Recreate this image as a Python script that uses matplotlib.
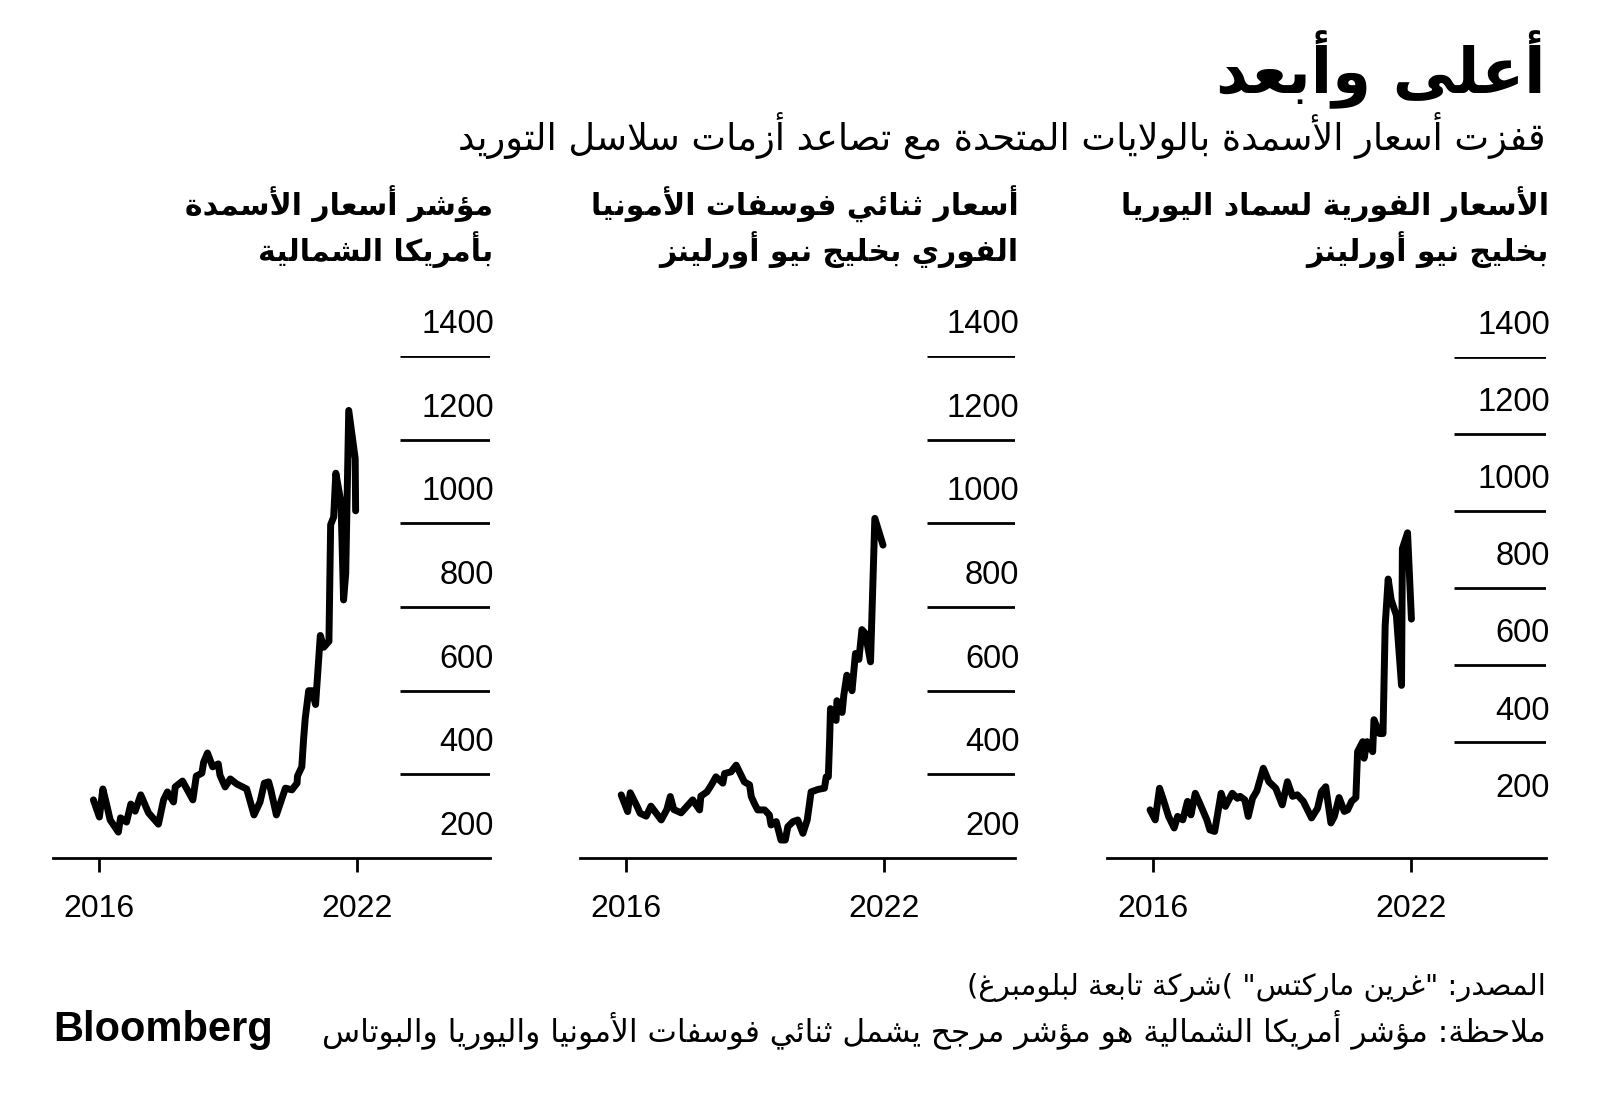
# US fertilizer prices, three small panels (Bloomberg style, Arabic labels)
import matplotlib as mpl
mpl.use('Agg')
import matplotlib.pyplot as plt

# ---- data ----
# North America fertilizer price index
t_index = [2015.87, 2016.01, 2016.09, 2016.18, 2016.26, 2016.45, 2016.50, 2016.64, 2016.74, 2016.84,
           2016.97, 2017.15, 2017.38, 2017.50, 2017.59, 2017.73, 2017.77, 2017.94, 2018.18, 2018.26,
           2018.39, 2018.43, 2018.52, 2018.64, 2018.77, 2018.81, 2018.93, 2019.05, 2019.20, 2019.43,
           2019.60, 2019.74, 2019.84, 2019.94, 2019.99, 2020.12, 2020.25, 2020.33, 2020.48, 2020.60,
           2020.61, 2020.71, 2020.75, 2020.79, 2020.87, 2020.95, 2021.03, 2021.14, 2021.22, 2021.34,
           2021.38, 2021.45, 2021.50, 2021.62, 2021.68, 2021.73, 2021.80, 2021.95, 2021.96]
v_index = [339, 298, 365, 327, 291, 262, 296, 286, 329, 312,
           351, 308, 281, 339, 358, 334, 370, 384, 339, 396,
           403, 429, 451, 418, 425, 398, 370, 389, 377, 365,
           303, 334, 379, 382, 363, 303, 343, 367, 363, 379,
           396, 418, 482, 534, 600, 600, 567, 732, 704, 718,
           997, 1015, 1120, 1050, 817, 880, 1270, 1155, 1030]

# DAP spot, NOLA
t_dap = [2015.90, 2016.05, 2016.11, 2016.27, 2016.34, 2016.48, 2016.59, 2016.83, 2016.96, 2017.04,
         2017.12, 2017.29, 2017.43, 2017.56, 2017.72, 2017.75, 2017.89, 2017.99, 2018.10, 2018.26,
         2018.30, 2018.45, 2018.57, 2018.76, 2018.88, 2018.92, 2018.99, 2019.07, 2019.23, 2019.34,
         2019.38, 2019.50, 2019.61, 2019.71, 2019.77, 2019.89, 2020.00, 2020.12, 2020.22, 2020.31,
         2020.47, 2020.62, 2020.66, 2020.71, 2020.74, 2020.76, 2020.89, 2020.91, 2021.03, 2021.07,
         2021.14, 2021.26, 2021.34, 2021.42, 2021.49, 2021.57, 2021.69, 2021.79, 2021.98]
v_dap = [351, 311, 356, 323, 307, 300, 324, 291, 316, 347,
         316, 308, 324, 339, 315, 348, 358, 374, 394, 379,
         402, 406, 422, 382, 375, 347, 331, 315, 315, 303,
         279, 287, 243, 243, 275, 287, 291, 259, 291, 358,
         364, 367, 394, 394, 482, 557, 529, 576, 548, 590,
         637, 600, 689, 675, 746, 737, 669, 1012, 948]

# Urea spot, NOLA
t_urea = [2015.93, 2016.05, 2016.15, 2016.24, 2016.36, 2016.49, 2016.57, 2016.69, 2016.80, 2016.88,
          2016.98, 2017.10, 2017.25, 2017.32, 2017.43, 2017.49, 2017.58, 2017.68, 2017.76, 2017.84,
          2017.96, 2018.02, 2018.13, 2018.21, 2018.31, 2018.41, 2018.56, 2018.69, 2018.85, 2019.00,
          2019.12, 2019.24, 2019.35, 2019.49, 2019.68, 2019.82, 2019.91, 2020.01, 2020.13, 2020.21,
          2020.32, 2020.44, 2020.52, 2020.61, 2020.71, 2020.75, 2020.87, 2020.90, 2020.97, 2021.10,
          2021.13, 2021.26, 2021.34, 2021.39, 2021.46, 2021.53, 2021.65, 2021.77, 2021.79, 2021.91,
          2022.00]
v_urea = [225, 199, 281, 251, 208, 178, 208, 199, 247, 212,
          268, 238, 199, 173, 169, 208, 268, 234, 251, 268,
          255, 260, 251, 208, 255, 274, 333, 298, 281, 238,
          298, 260, 264, 247, 204, 229, 272, 285, 191, 208,
          257, 221, 225, 247, 257, 376, 402, 359, 402, 376,
          459, 423, 423, 703, 824, 770, 730, 548, 903, 944,
          720]

x_ticks = [2016, 2022]
y_labels = [200, 400, 600, 800, 1000, 1200, 1400]

title = "أعلى وأبعد"
subtitle = "قفزت أسعار الأسمدة بالولايات المتحدة مع تصاعد أزمات سلاسل التوريد"
head_urea = ["الأسعار الفورية لسماد اليوريا", "بخليج نيو أورلينز"]
head_dap = ["أسعار ثنائي فوسفات الأمونيا", "الفوري بخليج نيو أورلينز"]
head_index = ["مؤشر أسعار الأسمدة", "بأمريكا الشمالية"]
source = 'المصدر: "غرين ماركتس" )شركة تابعة لبلومبرغ)'
note = "ملاحظة: مؤشر أمريكا الشمالية هو مؤشر مرجح يشمل ثنائي فوسفات الأمونيا واليوريا والبوتاس"


# ---- minimal Arabic shaping: contextual forms + lam-alef, then RTL order ----
_base = [('\u0621', 0xFE80, 1), ('\u0622', 0xFE81, 2), ('\u0623', 0xFE83, 2), ('\u0624', 0xFE85, 2),
         ('\u0625', 0xFE87, 2), ('\u0626', 0xFE89, 4), ('\u0627', 0xFE8D, 2), ('\u0628', 0xFE8F, 4),
         ('\u0629', 0xFE93, 2), ('\u062A', 0xFE95, 4), ('\u062B', 0xFE99, 4), ('\u062C', 0xFE9D, 4),
         ('\u062D', 0xFEA1, 4), ('\u062E', 0xFEA5, 4), ('\u062F', 0xFEA9, 2), ('\u0630', 0xFEAB, 2),
         ('\u0631', 0xFEAD, 2), ('\u0632', 0xFEAF, 2), ('\u0633', 0xFEB1, 4), ('\u0634', 0xFEB5, 4),
         ('\u0635', 0xFEB9, 4), ('\u0636', 0xFEBD, 4), ('\u0637', 0xFEC1, 4), ('\u0638', 0xFEC5, 4),
         ('\u0639', 0xFEC9, 4), ('\u063A', 0xFECD, 4), ('\u0641', 0xFED1, 4), ('\u0642', 0xFED5, 4),
         ('\u0643', 0xFED9, 4), ('\u0644', 0xFEDD, 4), ('\u0645', 0xFEE1, 4), ('\u0646', 0xFEE5, 4),
         ('\u0647', 0xFEE9, 4), ('\u0648', 0xFEED, 2), ('\u0649', 0xFEEF, 2), ('\u064A', 0xFEF1, 4)]
FORMS = {c: (b, n) for c, b, n in _base}
LAMALEF = {'\u0622': 0xFEF5, '\u0623': 0xFEF7, '\u0625': 0xFEF9, '\u0627': 0xFEFB}
MIRROR = {'(': ')', ')': '('}


def ar(text):
    # merge lam + alef into one ligature unit
    units = []
    i = 0
    while i < len(text):
        c = text[i]
        if c == '\u0644' and i + 1 < len(text) and text[i + 1] in LAMALEF:
            units.append(('LA', LAMALEF[text[i + 1]]))
            i += 2
        else:
            units.append((c, None))
            i += 1

    def joins_left(u):   # can connect to the following letter
        return u[0] in FORMS and FORMS[u[0]][1] == 4

    def is_letter(u):
        return u[0] == 'LA' or u[0] in FORMS

    out = []
    for k, u in enumerate(units):
        prev = units[k - 1] if k > 0 else None
        nxt = units[k + 1] if k + 1 < len(units) else None
        p = prev is not None and joins_left(prev) and is_letter(u)
        if u[0] == 'LA':
            out.append(chr(u[1] + (1 if p else 0)))
            continue
        if u[0] not in FORMS:
            out.append(u[0])
            continue
        base, n = FORMS[u[0]]
        nx = n == 4 and nxt is not None and is_letter(nxt)
        if n == 1:
            out.append(chr(base))
        elif p and nx:
            out.append(chr(base + 3))
        elif nx:
            out.append(chr(base + 2))
        elif p:
            out.append(chr(base + 1))
        else:
            out.append(chr(base))
    return ''.join(MIRROR.get(ch, ch) for ch in reversed(out))


# ---- figure ----
W, H = 1568.0, 1087.0   # layout measured on the reference
fig = plt.figure(figsize=(16, 11.09), dpi=100)
fig.patch.set_facecolor('white')

AR = ['DejaVu Sans']
NUM = 'Liberation Sans'

panels = [
    # left px, right px, series, y bottom, header, gridline values
    (52, 480, t_index, v_index, 200, head_index, [400, 600, 800, 1000, 1200, 1400]),
    (568, 995, t_dap, v_dap, 200, head_dap, [400, 600, 800, 1000, 1200, 1400]),
    (1085, 1515, t_urea, v_urea, 100, head_urea, [400, 600, 800, 1000, 1200, 1400]),
]

base_px = 841
top_px = 349
for (lpx, rpx, tt, vv, ybot, head, grid) in panels:
    top = top_px if ybot == 200 else 350
    ax = fig.add_axes([lpx / W, 1 - base_px / H, (rpx - lpx) / W, (base_px - top) / H])
    # x range: 2016 tick sits 45 px in from left edge, 42.2 px per year
    ppy = 42.2
    x0 = 2016 - 45 / ppy
    x1 = x0 + (rpx - lpx) / ppy
    ax.set_xlim(x0, x1)
    ax.set_ylim(ybot, 1400)
    ax.plot(tt, vv, color='black', lw=5.0, solid_joinstyle='round', solid_capstyle='round', clip_on=False)
    ax.hlines(grid, 2023, x1, color='black', lw=2.0)
    for v in y_labels:
        ax.annotate(str(v), xy=(x1, v), xytext=(3, 16.5), textcoords='offset points',
                    ha='right', va='baseline', fontsize=23.5, family=NUM, annotation_clip=False)
    for s in ['top', 'left', 'right']:
        ax.spines[s].set_visible(False)
    ax.spines['bottom'].set_linewidth(2.0)
    ax.set_yticks([])
    ax.set_xticks(x_ticks)
    ax.set_xticklabels([str(x) for x in x_ticks], fontsize=23, family=NUM)
    ax.tick_params(axis='x', direction='out', length=10, width=2.0, pad=16)
    ax.patch.set_visible(False)
    # panel header (two lines, right aligned)
    fig.text(rpx / W + 0.002, 1 - 200 / H, ar(head[0]), ha='right', va='center',
             fontsize=21.5, fontweight='bold', family=AR)
    fig.text(rpx / W + 0.002, 1 - 245 / H, ar(head[1]), ha='right', va='center',
             fontsize=21.5, fontweight='bold', family=AR)

fig.text(1515 / W, 1 - 68 / H, ar(title), ha='right', va='center',
         fontsize=45, fontweight='bold', family=AR)
fig.text(1515 / W, 1 - 133 / H, ar(subtitle), ha='right', va='center',
         fontsize=26.5, family=AR)
fig.text(1515 / W, 1 - 968 / H, ar(source), ha='right', va='center',
         fontsize=21, family=AR)
fig.text(1515 / W, 1 - 1010 / H, ar(note), ha='right', va='center',
         fontsize=22.5, family=AR)
fig.text(52 / W, 1 - 1010 / H, 'Bloomberg', ha='left', va='center',
         fontsize=30, fontweight='bold', family='Liberation Sans')

plt.savefig('out.png', dpi=100, facecolor='white')
